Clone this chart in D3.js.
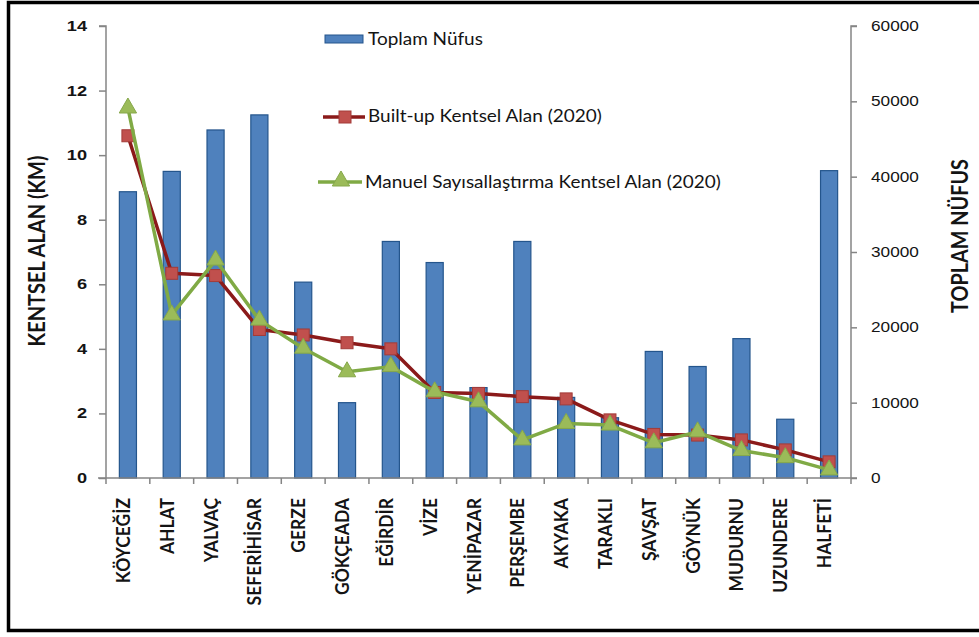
<!DOCTYPE html>
<html><head><meta charset="utf-8">
<script src="https://cdn.jsdelivr.net/npm/d3@7"></script>
<style>
html,body{margin:0;padding:0;background:#fff;}
svg{display:block;font-family:Lato,"Open Sans",sans-serif;}
</style></head>
<body>
<svg id="c" width="979" height="637"></svg>
<script>
const categories = ["KÖYCEĞİZ","AHLAT","YALVAÇ","SEFERİHİSAR","GERZE","GÖKÇEADA","EĞİRDİR","VİZE","YENİPAZAR","PERŞEMBE","AKYAKA","TARAKLI","ŞAVŞAT","GÖYNÜK","MUDURNU","UZUNDERE","HALFETİ"];
const toplamNufus = [38000,40700,46200,48200,26000,10000,31400,28600,12000,31400,10700,8000,16800,14800,18500,7800,40800];
const builtUp = [10.6,6.34,6.27,4.6,4.43,4.19,4.0,2.65,2.62,2.52,2.45,1.8,1.35,1.33,1.18,0.87,0.5];
const manuel = [11.46,5.05,6.75,4.89,4.02,3.29,3.45,2.67,2.36,1.18,1.69,1.64,1.09,1.43,0.85,0.63,0.25];
const leftTicks = [0,2,4,6,8,10,12,14];
const rightTicks = [0,10000,20000,30000,40000,50000,60000];
const seriesNames = ["Toplam Nüfus","Built-up Kentsel Alan (2020)","Manuel Sayısallaştırma Kentsel Alan (2020)"];

const svg = d3.select("#c");
const L=106,R=851,T=26,B=478;
const x = d3.scaleBand().domain(categories).range([L,R]).paddingInner(0.61).paddingOuter(0.305);
const xb = d3.scaleBand().domain(categories).range([L,R]);
const yL = d3.scaleLinear().domain([0,14]).range([B,T]);
const yR = d3.scaleLinear().domain([0,60000]).range([B,T]);
const txt = "#141414";

// frame (open on the right)
svg.append("path").attr("d","M979,2.5H8.5V630.5H979").attr("fill","none").attr("stroke","#000").attr("stroke-width",3.5);

// bars
svg.append("g").selectAll("rect").data(categories).join("rect")
  .attr("x",d=>x(d)).attr("width",x.bandwidth())
  .attr("y",(d,i)=>yR(toplamNufus[i])).attr("height",(d,i)=>B-yR(toplamNufus[i]))
  .attr("fill","#4f81bd").attr("stroke","#24558c").attr("stroke-width",1.2);

// axes
const axisCol="#858585";
const gl = svg.append("g").attr("transform",`translate(${L},0)`)
  .call(d3.axisLeft(yL).tickValues(leftTicks).tickSize(7).tickFormat(d3.format("d")));
gl.selectAll("text").attr("font-size",14).attr("font-weight","bold").attr("fill",txt)
  .attr("x",-19/1.3).attr("transform","scale(1.3,1)");
const gr = svg.append("g").attr("transform",`translate(${R},0)`)
  .call(d3.axisRight(yR).tickValues(rightTicks).tickSize(6).tickFormat(d3.format("d")));
gr.selectAll("text").attr("font-size",14).attr("fill",txt)
  .attr("x",20/1.23).attr("transform","scale(1.23,1)");
const gx = svg.append("g").attr("transform",`translate(0,${B})`)
  .call(d3.axisBottom(xb).tickSize(0).tickPadding(0));
gx.selectAll(".tick text").remove();
[gl,gr,gx].forEach(g=>{g.selectAll("path,line").attr("stroke",axisCol).attr("stroke-width",1.5);});
gl.select(".domain").attr("d",`M-7,${T}H0V${B}`);
gr.select(".domain").attr("d",`M6,${T}H0V${B}`);
gx.select(".domain").attr("d",`M${L-8},0H${R+6}`);
// category boundary ticks
svg.append("g").selectAll("line").data(d3.range(categories.length+1)).join("line")
  .attr("x1",i=>L+i*xb.step()).attr("x2",i=>L+i*xb.step())
  .attr("y1",B).attr("y2",B+6).attr("stroke",axisCol).attr("stroke-width",1.5);

// x labels
svg.append("g").selectAll("text").data(categories).join("text")
  .attr("transform",d=>`translate(${xb(d)+xb.bandwidth()/2+2},498) rotate(-90) scale(1,1.12)`)
  .attr("text-anchor","end").attr("font-size",17.5).attr("font-weight","bold").attr("fill",txt)
  .text(d=>d);

// lines
const cx = d=>xb(d)+xb.bandwidth()/2;
const line = arr => d3.line().x((d,i)=>cx(categories[i])).y((d,i)=>yL(arr[i]))(arr);
svg.append("path").attr("d",line(builtUp)).attr("fill","none").attr("stroke","#8b1a1a").attr("stroke-width",3.5).attr("stroke-linejoin","round");
svg.append("g").selectAll("rect").data(builtUp).join("rect")
  .attr("x",(d,i)=>cx(categories[i])-6).attr("y",d=>yL(d)-6).attr("width",12).attr("height",12)
  .attr("fill","#c0504d").attr("stroke","#a33b38").attr("stroke-width",1);
svg.append("path").attr("d",line(manuel)).attr("fill","none").attr("stroke","#80aa45").attr("stroke-width",3.5).attr("stroke-linejoin","round");
const tri = d3.symbol().type(d3.symbolTriangle).size(130);
svg.append("g").selectAll("path").data(manuel).join("path")
  .attr("transform",(d,i)=>`translate(${cx(categories[i])},${yL(d)})`).attr("d",tri())
  .attr("fill","#9bbb59").attr("stroke","#86a84a").attr("stroke-width",1);

// axis titles
svg.append("text").attr("transform","translate(45,251) rotate(-90) scale(1,1.1)").attr("text-anchor","middle")
  .attr("font-size",20).attr("font-weight","bold").attr("fill",txt).text("KENTSEL ALAN (KM)");
svg.append("text").attr("transform","translate(968,236) rotate(-90) scale(1,1.12)").attr("text-anchor","middle")
  .attr("font-size",19.8).attr("font-weight","bold").attr("fill",txt).text("TOPLAM NÜFUS");

// legend
const lg = svg.append("g");
lg.append("rect").attr("x",325).attr("y",35).attr("width",38).attr("height",8).attr("fill","#4f81bd").attr("stroke","#24558c");
lg.append("text").attr("transform","translate(368,45) scale(1.15,1)").attr("font-size",16.5).attr("fill",txt).text(seriesNames[0]);
lg.append("line").attr("x1",323).attr("x2",365).attr("y1",117).attr("y2",117).attr("stroke","#8b1a1a").attr("stroke-width",3.5);
lg.append("rect").attr("x",339).attr("y",111).attr("width",12).attr("height",12).attr("fill","#c0504d").attr("stroke","#a33b38");
lg.append("text").attr("transform","translate(368,122) scale(1.15,1)").attr("font-size",16.5).attr("fill",txt).text(seriesNames[1]);
lg.append("line").attr("x1",318).attr("x2",362).attr("y1",182).attr("y2",182).attr("stroke","#80aa45").attr("stroke-width",3.5);
lg.append("path").attr("transform","translate(341,181)").attr("d",tri()).attr("fill","#9bbb59").attr("stroke","#86a84a");
lg.append("text").attr("transform","translate(365,188) scale(1.15,1)").attr("font-size",16.5).attr("fill",txt).text(seriesNames[2]);
</script>
</body></html>
